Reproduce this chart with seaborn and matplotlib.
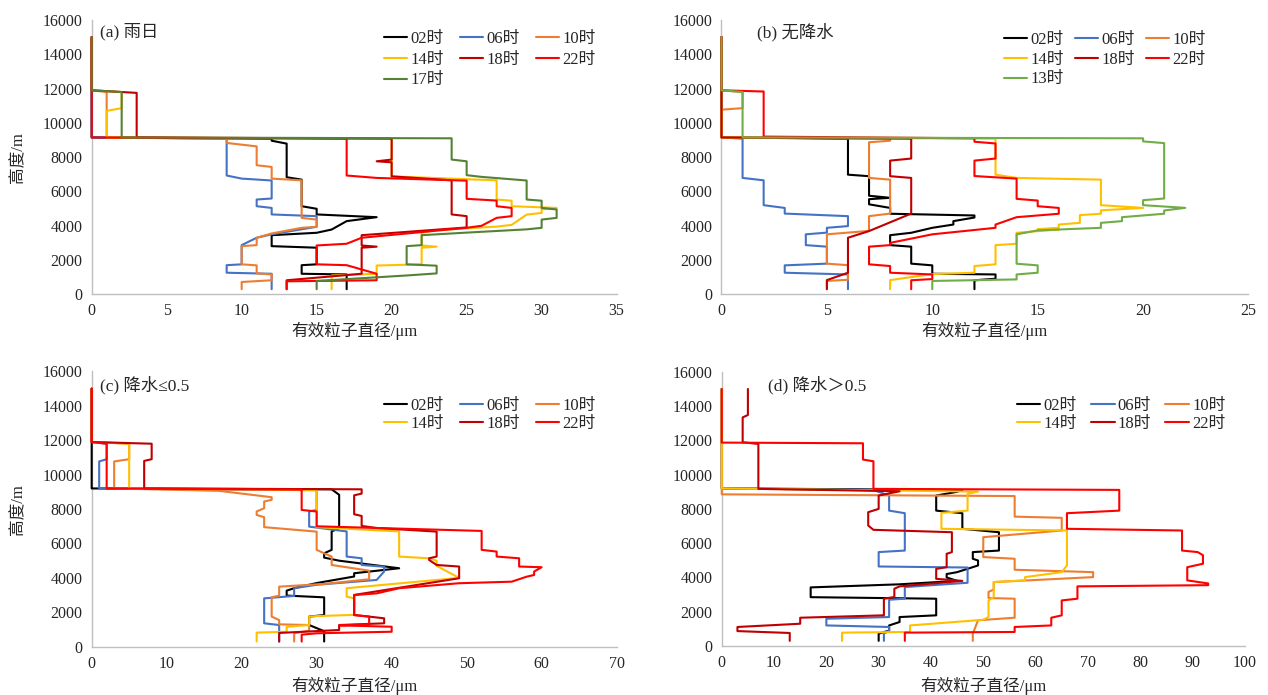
import matplotlib
matplotlib.use("Agg")
import matplotlib.pyplot as plt
import pandas as pd
import seaborn as sns

sns.set_theme(style="white")
plt.rcParams["font.family"] = ["Liberation Serif", "Noto Sans CJK SC"]
plt.rcParams["axes.unicode_minus"] = False

# ---- effective particle diameter profiles: (diameter in um, height in m), top to bottom ----
# (a) rainy days
A_02 = [(0, 15000), (0, 11900), (0, 11800), (0, 9150), (12, 9080), (12, 8960), (13, 8790), (13, 6830),
        (14, 6690), (14, 5140), (15, 4990), (15, 4660), (19, 4500), (17, 4270), (16, 3780), (15, 3590),
        (12, 3450), (12, 2810), (15, 2720), (15, 1750), (14, 1700), (14, 1200), (17, 1160), (17, 300)]
A_06 = [(0, 15000), (0, 11900), (0, 11800), (0, 9150), (9, 9080), (9, 6930), (10, 6750), (12, 6640),
        (12, 5590), (11, 5530), (11, 5140), (12, 5040), (12, 4660), (15, 4560), (15, 3940), (12, 3500),
        (11, 3300), (10, 2870), (10, 1750), (9, 1700), (9, 1260), (12, 1200), (12, 300)]
A_10 = [(0, 15000), (0, 11900), (1, 11800), (1, 9150), (9, 9080), (9, 8830), (11, 8630), (11, 7530),
        (12, 7430), (12, 6750), (14, 6650), (14, 4460), (15, 4360), (15, 3940), (14, 3880), (12, 3550),
        (11, 3300), (11, 2870), (10, 2810), (10, 1750), (11, 1690), (11, 1220), (12, 1160), (12, 820),
        (10, 720), (10, 300)]
A_14 = [(0, 15000), (0, 11900), (2, 11800), (2, 10860), (1, 10700), (1, 9150), (20, 9080), (20, 6880),
        (27, 6650), (27, 5530), (28, 5460), (28, 5140), (31, 5040), (30, 4950), (30, 4750), (29, 4650),
        (28, 4050), (27, 3950), (23, 3750), (22, 3600), (22, 2850), (23, 2780), (22, 2720), (22, 1750),
        (19, 1680), (19, 1200), (16, 1100), (16, 300)]
A_18 = [(0, 15000), (0, 11900), (3, 11750), (3, 9150), (20, 9080), (20, 7860), (19, 7760), (20, 7700),
        (20, 6880), (24, 6650), (24, 4660), (25, 4560), (25, 3900), (18, 3450), (18, 2850), (19, 2780),
        (18, 2720), (18, 1200), (13, 820), (13, 300)]
A_22 = [(0, 15000), (0, 11900), (0, 11800), (0, 9150), (17, 9080), (17, 6930), (19, 6790), (25, 6630),
        (25, 5570), (27, 5470), (27, 5140), (28, 5040), (28, 4560), (27, 4460), (26, 4000), (25, 3880),
        (18, 3300), (17, 2950), (15, 2850), (15, 1750), (17, 1700), (19, 1200), (19, 820), (13, 760),
        (13, 300)]
A_17 = [(0, 15000), (0, 11900), (2, 11800), (2, 9150), (24, 9100), (24, 7860), (25, 7760), (25, 6950),
        (26, 6850), (29, 6640), (29, 5530), (30, 5460), (30, 5040), (31, 4950), (31, 4460), (30, 4360),
        (30, 3880), (29, 3790), (25, 3600), (22, 3450), (22, 2870), (21, 2810), (21, 1750), (23, 1670),
        (23, 1220), (21, 1100), (15, 780), (15, 300)]

# (b) no precipitation
B_02 = [(0, 15000), (0, 11900), (0, 11800), (0, 9150), (6, 9080), (6, 6980), (7, 6890), (7, 5750),
        (8, 5630), (7, 5550), (7, 5250), (8, 5040), (8, 4700), (12, 4600), (12, 4480), (11, 4270),
        (11, 4070), (10, 3880), (9, 3590), (8, 3450), (8, 2870), (9, 2780), (9, 1790), (10, 1690),
        (10, 1200), (13, 1160), (13, 910), (12, 820), (12, 300)]
B_06 = [(0, 15000), (0, 11900), (0, 11800), (0, 9150), (1, 9080), (1, 6790), (2, 6650), (2, 5200),
        (3, 5040), (3, 4710), (6, 4560), (6, 3980), (5, 3880), (5, 3600), (4, 3500), (4, 2870),
        (5, 2780), (5, 1790), (3, 1690), (3, 1260), (6, 1160), (6, 300)]
B_10 = [(0, 15000), (0, 11900), (1, 11800), (1, 10860), (0, 10770), (0, 9150), (8, 9080), (8, 8960),
        (7, 8870), (7, 6790), (8, 6690), (8, 4710), (7, 4560), (7, 3700), (5, 3500), (5, 1790),
        (6, 1700), (6, 850), (5, 780), (5, 300)]
B_14 = [(0, 15000), (0, 11900), (0, 11800), (0, 9150), (13, 9080), (13, 6980), (14, 6790), (18, 6690),
        (18, 5200), (20, 5040), (18, 4900), (18, 4700), (17, 4620), (17, 4170), (16, 4070), (16, 3880),
        (15, 3800), (16, 3780), (14, 3590), (14, 2950), (13, 2870), (13, 1750), (12, 1650), (12, 1260),
        (10, 1180), (8, 830), (8, 300)]
B_18 = [(0, 15000), (0, 11900), (0, 11800), (0, 9150), (9, 9080), (9, 7920), (8, 7800), (8, 6890),
        (9, 6790), (9, 4710), (7, 3690), (6, 3300), (6, 1260), (5, 830), (5, 300)]
B_22 = [(0, 15000), (0, 11900), (2, 11830), (2, 9200), (12, 9100), (12, 8900), (13, 8800), (13, 7920),
        (12, 7800), (12, 6900), (14, 6750), (14, 5570), (15, 5470), (15, 5140), (16, 5040), (16, 4700),
        (14, 4500), (13, 4070), (13, 3880), (10, 3500), (8, 3000), (8, 2870), (7, 2780), (7, 1750),
        (8, 1650), (8, 1260), (10, 1160), (10, 890), (9, 820), (9, 300)]
B_13 = [(0, 15000), (0, 11900), (1, 11800), (1, 9150), (20, 9100), (20, 8920), (21, 8820), (21, 5590),
        (20, 5490), (20, 5200), (22, 5044), (21, 4890), (21, 4700), (19, 4500), (19, 4270), (18, 4170),
        (18, 3880), (15, 3730), (14, 3500), (14, 1785), (15, 1690), (15, 1260), (14, 1160), (14, 870),
        (10, 780), (10, 300)]

# (c) precipitation <= 0.5
C_02 = [(0, 15000), (0, 11930), (0, 9200), (32, 9150), (33, 8830), (33, 6890), (32, 6700), (32, 5630),
        (31, 5430), (31, 5180), (33, 5000), (41, 4560), (35, 4270), (35, 4080), (30, 3700), (27, 3400),
        (26, 3260), (26, 2970), (31, 2870), (31, 1840), (29, 1750), (29, 1260), (31, 900), (31, 300)]
C_06 = [(0, 15000), (0, 11900), (2, 11800), (2, 10900), (1, 10770), (1, 9200), (30, 9100), (30, 7950),
        (29, 7860), (29, 6980), (34, 6700), (34, 5240), (36, 5140), (36, 4750), (39, 4650), (39, 4370),
        (38, 3880), (30, 3600), (27, 3400), (27, 2950), (23, 2810), (23, 1360), (25, 1260), (25, 300)]
C_10 = [(0, 15000), (0, 11900), (5, 11800), (5, 10900), (3, 10770), (3, 9200), (17, 9060), (24, 8690),
        (24, 8540), (23, 8440), (23, 8050), (22, 7860), (22, 7660), (23, 7530), (23, 6950), (30, 6690),
        (30, 5630), (31, 5430), (32, 5240), (32, 4750), (37, 4420), (37, 3920), (31, 3650), (25, 3490),
        (25, 2970), (24, 2870), (24, 1750), (25, 1550), (25, 1300), (29, 1260), (29, 930), (27, 780),
        (27, 300)]
C_14 = [(0, 15000), (0, 11900), (5, 11800), (5, 9200), (30, 9100), (30, 6950), (41, 6700), (41, 5240),
        (45, 5140), (46, 5000), (46, 4700), (49, 4000), (34, 3400), (34, 2910), (35, 2810), (35, 1850),
        (30, 1780), (29, 1750), (29, 1260), (26, 1160), (26, 870), (22, 820), (22, 300)]
C_18 = [(0, 15000), (0, 11900), (8, 11800), (8, 10900), (7, 10800), (7, 9200), (36, 9150), (36, 8900),
        (35, 8800), (35, 7700), (36, 7600), (36, 7020), (38, 6900), (46, 6690), (46, 5240), (45, 5140),
        (45, 5040), (46, 4750), (49, 4660), (49, 3980), (35, 3010), (35, 1840), (37, 1750), (39, 1650),
        (39, 1360), (33, 1260), (33, 970), (25, 800), (25, 300)]
C_22 = [(0, 15000), (0, 11900), (2, 11800), (2, 9200), (28, 9130), (28, 7950), (30, 7860), (30, 7000),
        (52, 6730), (52, 5630), (54, 5530), (54, 5240), (57, 5140), (57, 4660), (60, 4620), (59, 4370),
        (59, 4170), (58, 4070), (56, 3780), (49, 3690), (41, 3400), (38, 3100), (35, 3000), (35, 1840),
        (37, 1750), (37, 1300), (33, 1240), (40, 1160), (40, 870), (30, 780), (28, 700), (28, 300)]

# (d) precipitation > 0.5
D_02 = [(0, 15000), (0, 9200), (46, 9100), (45, 9000), (41, 8780), (41, 7900), (46, 7750), (46, 6840),
        (53, 6640), (53, 5570), (48, 5480), (48, 5090), (49, 4990), (49, 4700), (45, 4310), (43, 4200),
        (43, 4000), (45, 3800), (34, 3600), (17, 3420), (17, 2850), (41, 2760), (41, 1790), (34, 1690),
        (34, 1400), (32, 1200), (32, 900), (30, 720), (30, 300)]
D_06 = [(0, 15000), (0, 9200), (29, 9100), (32, 8780), (32, 7900), (35, 7750), (35, 5570), (30, 5480),
        (30, 4640), (47, 4580), (47, 3690), (35, 3440), (35, 2760), (32, 2700), (32, 1690), (20, 1590),
        (20, 1200), (32, 1110), (32, 900), (31, 720), (31, 300)]
D_10 = [(0, 15000), (0, 8850), (56, 8750), (56, 7550), (65, 7480), (65, 6740), (50, 6350), (50, 5190),
        (56, 5090), (56, 4450), (71, 4310), (71, 4020), (52, 3730), (52, 3300), (51, 3150), (51, 2800),
        (56, 2760), (56, 1650), (49, 1500), (48, 720), (48, 300)]
D_14 = [(0, 15000), (0, 9200), (49, 9010), (47, 8880), (47, 7900), (42, 7770), (42, 6840), (66, 6740),
        (66, 4700), (65, 4310), (58, 4020), (58, 3830), (52, 3730), (52, 2860), (51, 2660), (51, 1690),
        (50, 1530), (36, 1200), (36, 820), (23, 780), (23, 300)]
D_18 = [(5, 15000), (5, 13480), (4, 13340), (4, 11890), (7, 11790), (7, 9170), (34, 9030), (30, 8780),
        (30, 8000), (28, 7810), (28, 7030), (29, 6780), (44, 6640), (44, 5480), (43, 5380), (43, 4600),
        (41, 4500), (41, 3920), (46, 3800), (34, 3480), (33, 3340), (33, 2860), (31, 2760), (31, 1790),
        (15, 1650), (15, 1300), (3, 1110), (3, 870), (13, 760), (13, 300)]
D_22 = [(0, 15000), (0, 11870), (27, 11830), (27, 10880), (29, 10780), (29, 9170), (76, 9110), (76, 7900),
        (66, 7750), (66, 6840), (88, 6740), (88, 5570), (91, 5480), (92, 5300), (92, 4800), (89, 4600),
        (89, 3830), (93, 3650), (93, 3550), (68, 3480), (68, 2760), (65, 2660), (65, 1790), (63, 1650),
        (63, 1200), (56, 1110), (56, 820), (35, 780), (35, 300)]

COLORS = {"02时": "#000000", "06时": "#4472C4", "10时": "#ED7D31", "14时": "#FFC000",
          "18时": "#C00000", "22时": "#FF0000", "17时": "#548235", "13时": "#70AD47"}

PANELS = [
    dict(rect=[0.0723, 0.5765, 0.4140, 0.3947], title="(a) 雨日", xmax=35, xstep=5,
         series=[("02时", A_02), ("06时", A_06), ("10时", A_10), ("14时", A_14),
                 ("18时", A_18), ("22时", A_22), ("17时", A_17)],
         ylabel=True, leg=(384, 31), lsp=0.28, csp=0.95, xlab_y=331, title_xy=(100, 32)),
    dict(rect=[0.5690, 0.5765, 0.4156, 0.3947], title="(b) 无降水", xmax=25, xstep=5,
         series=[("02时", B_02), ("06时", B_06), ("10时", B_10), ("14时", B_14),
                 ("18时", B_18), ("22时", B_22), ("13时", B_13)],
         ylabel=False, leg=(1004, 32), lsp=0.22, csp=0.65, xlab_y=331, title_xy=(757, 32)),
    dict(rect=[0.0723, 0.0695, 0.4140, 0.3960], title="(c) 降水≤0.5", xmax=70, xstep=10,
         series=[("02时", C_02), ("06时", C_06), ("10时", C_10), ("14时", C_14),
                 ("18时", C_18), ("22时", C_22)],
         ylabel=True, leg=(384, 398), lsp=0.1, csp=0.95, xlab_y=686, title_xy=(100, 385)),
    dict(rect=[0.5692, 0.0705, 0.4125, 0.3945], title="(d) 降水＞0.5", xmax=100, xstep=10,
         series=[("02时", D_02), ("06时", D_06), ("10时", D_10), ("14时", D_14),
                 ("18时", D_18), ("22时", D_22)],
         ylabel=False, leg=(1017, 398), lsp=0.1, csp=0.85, xlab_y=686, title_xy=(768, 385)),
]

W, H = 1268, 695
fig = plt.figure(figsize=(W / 100, H / 100), dpi=100)
fig.patch.set_facecolor("white")

AXIS_GREY = "#BFBFBF"
TEXT_COLOR = "#262626"
NCOL = 3

for p in PANELS:
    ax = fig.add_axes(p["rect"])
    for label, pts in p["series"]:
        df = pd.DataFrame(pts, columns=["diam", "height"])
        sns.lineplot(data=df, x="diam", y="height", sort=False, estimator=None,
                     color=COLORS[label], lw=1.5, ax=ax, label=label, zorder=3, clip_on=False)
    ax.set_xlim(0, p["xmax"])
    ax.set_ylim(0, 16000)
    ax.set_xticks(range(0, p["xmax"] + 1, p["xstep"]))
    ax.set_yticks(range(0, 16001, 2000))
    ax.set_xlabel("")
    ax.set_ylabel("")
    for side in ("top", "right"):
        ax.spines[side].set_visible(False)
    for side in ("left", "bottom"):
        ax.spines[side].set_color(AXIS_GREY)
        ax.spines[side].set_linewidth(1.0)
        ax.spines[side].set_zorder(1)
    ax.tick_params(axis="both", direction="out", length=4, width=0.8, color=AXIS_GREY,
                   labelsize=11.5, labelcolor=TEXT_COLOR, pad=2.5)
    ax.grid(False)

    # legend entries read row by row (matplotlib fills columns first)
    handles, labels = ax.get_legend_handles_labels()
    n = len(handles)
    nrows = -(-n // NCOL)
    order = [r * NCOL + c for c in range(NCOL) for r in range(nrows) if r * NCOL + c < n]
    lx, ly = p["leg"]
    ax.legend([handles[i] for i in order], [labels[i] for i in order],
              loc="upper left", bbox_to_anchor=(lx / W, 1 - ly / H), bbox_transform=fig.transFigure,
              ncol=NCOL, frameon=False, fontsize=12, handlelength=1.4, handletextpad=0.2,
              columnspacing=p["csp"], labelspacing=p["lsp"], borderpad=0, borderaxespad=0)

    tx, ty = p["title_xy"]
    fig.text(tx / W, 1 - ty / H, p["title"], fontsize=12.5, color=TEXT_COLOR,
             ha="left", va="center")

    box = ax.get_position()
    fig.text(box.x0 + box.width * 0.5, 1 - p["xlab_y"] / H, "有效粒子直径/μm", fontsize=12,
             color=TEXT_COLOR, ha="center", va="center")
    if p["ylabel"]:
        fig.text(18 / W, box.y0 + box.height * 0.5, "高度/m", fontsize=12, color=TEXT_COLOR,
                 rotation=90, ha="center", va="center")

fig.savefig("out.png", dpi=100, facecolor="white")
